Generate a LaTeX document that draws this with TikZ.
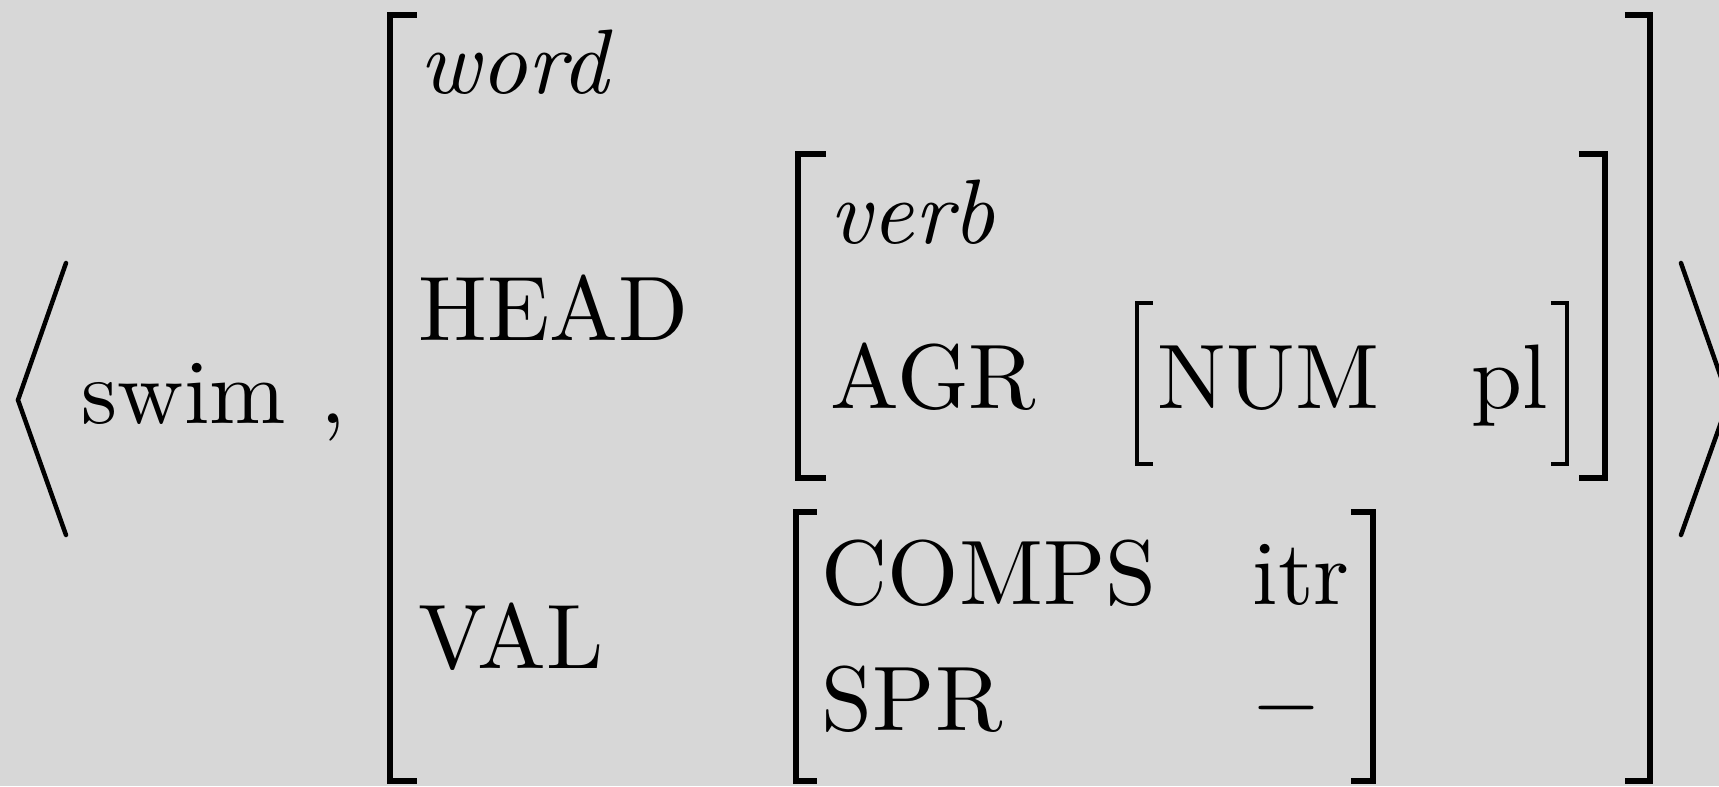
\documentclass[tikz,border=0pt]{standalone}
\usetikzlibrary{positioning}
\definecolor{paper}{RGB}{215,215,215}

\begin{document}
\begin{tikzpicture}[
  x=0.1111pt, y=-0.1111pt,
  lab/.style={inner sep=0pt, anchor=base west, font=\fontsize{10.18}{12}\selectfont},
  typ/.style={lab, font=\fontsize{10.18}{12}\selectfont\itshape},
  brk/.style={line width=0.68pt, line join=miter},
  sbrk/.style={line width=0.48pt, line join=miter},
  ang/.style={line width=0.5pt, line cap=round}
]
\fill[paper] (0,0) rectangle (1719,786);
\useasboundingbox (0,0) rectangle (1719,786);
\clip (0,0) rectangle (1719,786);

% the tuple
\draw[ang] (66,263) -- (18,400) -- (66,535);
\node[lab] (swim) at (80,423) {swim};
\node[lab] (comma) at (319,423) {,};
\draw[ang] (1681,263) -- (1729,400) -- (1681,535);

% outer AVM
\draw[brk] (417,15) -- (390,15) -- (390,781) -- (417,781);
\draw[brk] (1625,15) -- (1650,15) -- (1650,781) -- (1625,781);
\node[typ] (word) at (418,93) {word};
\node[lab] (head) at (417,340) {HEAD};
\node[lab] (val) at (417,668) {VAL};

% HEAD value
\draw[brk] (826,154) -- (798,154) -- (798,478) -- (826,478);
\draw[brk] (1579,154) -- (1605,154) -- (1605,478) -- (1579,478);
\node[typ] (verb) at (828,243) {verb};
\node[lab] (agr) at (829,408) {AGR};
\draw[sbrk] (1153,303) -- (1137,303) -- (1137,464) -- (1153,464);
\draw[sbrk] (1551,303) -- (1567,303) -- (1567,464) -- (1551,464);
\node[lab] (num) at (1156,408) {NUM};
\node[lab] (pl) at (1470,408) {pl};

% VAL value
\draw[brk] (817,512) -- (796,512) -- (796,781) -- (817,781);
\draw[brk] (1351,512) -- (1373,512) -- (1373,781) -- (1351,781);
\node[lab] (comps) at (820,604) {COMPS};
\node[lab] (itr) at (1251,604) {itr};
\node[lab] (spr) at (820,730) {SPR};
\node[lab] (minus) at (1250,730) {$-$};
\end{tikzpicture}
\end{document}
